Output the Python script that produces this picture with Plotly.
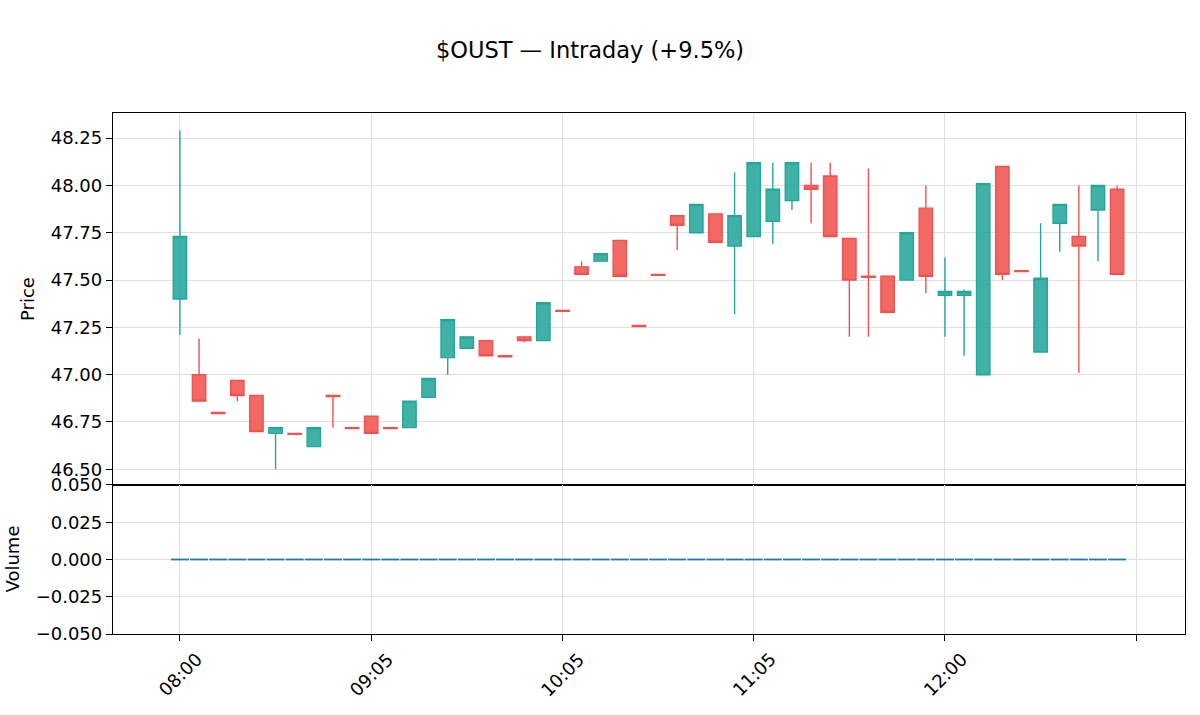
import plotly.graph_objects as go

# ---- data ----
opens = [47.40, 47.00, 46.80, 46.97, 46.89, 46.69, 46.69, 46.62, 46.89, 46.72,
         46.78, 46.72, 46.72, 46.88, 47.09, 47.14, 47.18, 47.10, 47.20, 47.18,
         47.34, 47.57, 47.60, 47.71, 47.26, 47.53, 47.84, 47.75, 47.85, 47.68,
         47.73, 47.81, 47.92, 48.00, 48.05, 47.72, 47.52, 47.52, 47.50, 47.88,
         47.42, 47.42, 47.00, 48.10, 47.55, 47.12, 47.80, 47.73, 47.87, 47.98]
highs = [48.29, 47.19, 46.80, 46.97, 46.89, 46.72, 46.69, 46.72, 46.89, 46.72,
         46.78, 46.72, 46.86, 46.98, 47.29, 47.20, 47.18, 47.10, 47.20, 47.38,
         47.34, 47.60, 47.64, 47.71, 47.26, 47.53, 47.84, 47.90, 47.85, 48.07,
         48.12, 48.12, 48.12, 48.12, 48.12, 47.72, 48.09, 47.52, 47.75, 48.00,
         47.62, 47.45, 48.01, 48.10, 47.55, 47.80, 47.90, 48.00, 48.00, 48.00]
lows = [47.21, 46.86, 46.80, 46.86, 46.70, 46.50, 46.69, 46.62, 46.72, 46.72,
        46.69, 46.72, 46.72, 46.88, 47.00, 47.14, 47.10, 47.10, 47.17, 47.18,
        47.34, 47.53, 47.60, 47.52, 47.26, 47.53, 47.66, 47.75, 47.70, 47.32,
        47.73, 47.69, 47.87, 47.80, 47.73, 47.20, 47.20, 47.33, 47.50, 47.43,
        47.20, 47.10, 47.00, 47.50, 47.55, 47.12, 47.65, 47.01, 47.60, 47.53]
closes = [47.73, 46.86, 46.795, 46.89, 46.70, 46.72, 46.685, 46.72, 46.885, 46.715,
          46.69, 46.715, 46.86, 46.98, 47.29, 47.20, 47.10, 47.095, 47.18, 47.38,
          47.335, 47.53, 47.64, 47.52, 47.255, 47.525, 47.79, 47.90, 47.70, 47.84,
          48.12, 47.98, 48.12, 47.98, 47.73, 47.50, 47.515, 47.33, 47.75, 47.52,
          47.44, 47.44, 48.01, 47.53, 47.545, 47.51, 47.90, 47.68, 48.00, 47.53]
volumes = [0] * 50

tick_positions = [0, 10, 20, 30, 40, 50]
tick_labels = ["08:00", "09:05", "10:05", "11:05", "12:00", ""]

title_text = "$OUST — Intraday (+9.5%)"

GREEN = "#26a69a"
RED = "#ef5350"
FONT = "DejaVu Sans"

idx = list(range(len(opens)))

fig = go.Figure()
fig.add_trace(go.Candlestick(
    x=idx, open=opens, high=highs, low=lows, close=closes,
    increasing=dict(line=dict(color=GREEN, width=1.4), fillcolor="rgba(38,166,154,0.88)"),
    decreasing=dict(line=dict(color=RED, width=1.4), fillcolor="rgba(239,83,80,0.88)"),
    whiskerwidth=0, showlegend=False, xaxis="x", yaxis="y",
))

# zero-volume bars drawn as flat segments on the volume panel
vx, vy = [], []
half = 0.47
for i, v in zip(idx, volumes):
    vx += [i - half, i + half, None]
    vy += [v, v, None]
fig.add_trace(go.Scatter(x=vx, y=vy, mode="lines", line=dict(color="#1f77b4", width=1.8),
                         showlegend=False, hoverinfo="skip", xaxis="x2", yaxis="y2"))

axis_common = dict(
    showline=True, linecolor="black", linewidth=1.3, mirror=True,
    ticks="outside", ticklen=6, tickwidth=1.2, tickcolor="black",
    showgrid=True, gridcolor="#e0e0e0", gridwidth=1.4, zeroline=False,
    tickfont=dict(family=FONT, size=18, color="black"),
)
xr = [-3.5, 52.55]

# rotated time labels centred under their ticks
for pos, lab in zip(tick_positions, tick_labels):
    if lab:
        fig.add_annotation(x=pos, y=0, xref="x2", yref="paper", text=lab, showarrow=False,
                           textangle=-45, xanchor="center", yanchor="middle", yshift=-40,
                           font=dict(family=FONT, size=18, color="black"))

# axis titles
fig.add_annotation(x=0, y=0.5, xref="paper", yref="y domain", text="Price", showarrow=False,
                   textangle=-90, xanchor="center", yanchor="middle", xshift=-85,
                   font=dict(family=FONT, size=18, color="black"))
fig.add_annotation(x=0, y=0.5, xref="paper", yref="y2 domain", text="Volume", showarrow=False,
                   textangle=-90, xanchor="center", yanchor="middle", xshift=-101,
                   font=dict(family=FONT, size=18, color="black"))

fig.update_layout(
    width=1200, height=715,
    margin=dict(l=113, r=15, t=113, b=81),
    paper_bgcolor="white", plot_bgcolor="white",
    title=dict(text=title_text, xref="container", x=0.4917, xanchor="center",
               y=0.93, yanchor="middle",
               font=dict(family=FONT, size=22.5, color="black")),
    boxgap=0.3, boxgroupgap=0.0,
    xaxis=dict(domain=[0, 1], anchor="y", range=xr, tickvals=tick_positions,
               ticktext=tick_labels, showticklabels=False, rangeslider=dict(visible=False),
               **axis_common),
    yaxis=dict(domain=[0.286, 1], anchor="x", range=[46.417, 48.383],
               tickvals=[46.5, 46.75, 47.0, 47.25, 47.5, 47.75, 48.0, 48.25],
               tickformat=".2f", **axis_common),
    xaxis2=dict(domain=[0, 1], anchor="y2", range=xr, tickvals=tick_positions,
                ticktext=tick_labels, showticklabels=False, **axis_common),
    yaxis2=dict(domain=[0, 0.286], anchor="x2", range=[-0.05, 0.05],
                tickvals=[-0.05, -0.025, 0, 0.025, 0.05], tickformat=".3f",
                **axis_common),
)

fig.write_html("out.html")
